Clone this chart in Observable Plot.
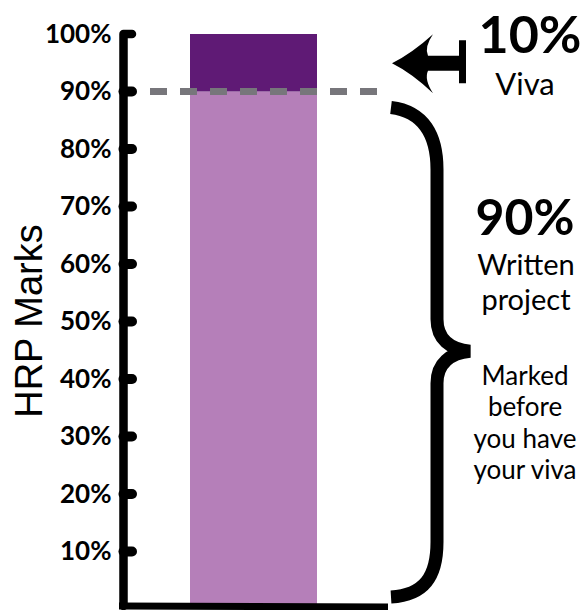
<!DOCTYPE html>
<html>
<head>
<meta charset="utf-8">
<script src="https://cdn.jsdelivr.net/npm/d3@7"></script>
<script src="https://cdn.jsdelivr.net/npm/@observablehq/plot@0.6"></script>
<style>
  html, body { margin: 0; padding: 0; background: #fff; }
  svg { display: block; }
</style>
</head>
<body>
<div id="chart"></div>
<script>
// ---- data ----
const categories = ["HRP"];
const parts = ["Written project", "Viva"];
const values = [90, 10];
const partColors = ["#b57fb9", "#5f1a75"];
const tickValues = [10, 20, 30, 40, 50, 60, 70, 80, 90, 100];
const vivaShare = "10%";
const vivaLabel = ["Viva"];
const writtenShare = "90%";
const writtenLabel = ["Written", "project"];
const writtenNote = ["Marked", "before", "you have", "your viva"];
const axisTitle = "HRP Marks";

const data = parts.map((p, i) => ({group: categories[0], part: p, value: values[i]}));

const chart = Plot.plot({
  width: 581,
  height: 610,
  marginTop: 34,
  marginBottom: 1,
  marginLeft: 125,
  marginRight: 0,
  style: {fontFamily: "Lato, sans-serif", background: "#fff", color: "#000"},
  x: {type: "band", domain: categories, range: [190, 317], padding: 0, axis: null},
  y: {domain: [0, 100], axis: null},
  color: {domain: parts, range: partColors},
  marks: [
    Plot.barY(data, {x: "group", y: "value", fill: "part"}),
    Plot.axisY({
      ticks: tickValues,
      tickFormat: d => d + "%",
      tickSize: 0,
      tickPadding: 14,
      fontSize: 26,
      fontWeight: "bold",
      fontFamily: "Lato",
      fill: "#000",
      label: null
    })
  ]
});

document.getElementById("chart").appendChild(chart);

// ---- annotations drawn with the plot's own y scale ----
const yS = chart.scale("y");
const y = v => yS.apply(v);
const svg = d3.select(chart);
const g = svg.append("g");

// dashed 90% line
const split = values[0];
g.append("line")
  .attr("x1", 150).attr("x2", 377)
  .attr("y1", y(split)).attr("y2", y(split))
  .attr("stroke", "#77767b").attr("stroke-width", 7)
  .attr("stroke-dasharray", "17 13");

// y axis line (with top bend into the 100% tick)
const yMax = d3.max(tickValues);
g.append("path")
  .attr("d", `M132,${y(yMax)} L123.5,${y(yMax)} L123.5,${y(0) - 3}`)
  .attr("fill", "none").attr("stroke", "#000").attr("stroke-width", 8.5)
  .attr("stroke-linejoin", "round").attr("stroke-linecap", "round");

// ticks
g.selectAll("line.tk").data(tickValues.filter(t => t !== yMax)).join("line")
  .attr("x1", 123.5).attr("x2", 132)
  .attr("y1", d => y(d)).attr("y2", d => y(d))
  .attr("stroke", "#000").attr("stroke-width", 10).attr("stroke-linecap", "round");

// bottom line
g.append("line")
  .attr("x1", 119).attr("x2", 388)
  .attr("y1", y(0) - 3).attr("y2", y(0) - 2)
  .attr("stroke", "#000").attr("stroke-width", 7);

// arrow for viva
const yv = y(split + values[1] / 2) + 0.5;
g.append("path")
  .attr("d", `M392,${yv} Q412,${yv - 10} 433,${yv - 29} Q424,${yv - 16} 428,${yv - 7.5} L460,${yv - 7.5} L460,${yv + 7.5} L428,${yv + 7.5} Q424,${yv + 16} 433,${yv + 30} Q412,${yv + 10} 392,${yv} Z`)
  .attr("fill", "#000");
g.append("rect")
  .attr("x", 459).attr("y", yv - 23).attr("width", 7).attr("height", 43)
  .attr("fill", "#000");

// brace for written project
const bt = y(split) + 16, bb = y(0) - 12, bm = y(split / 2) + 1;
g.append("path")
  .attr("d", `M391,${bt} C424,${bt + 4} 437,${bt + 28} 437,${bt + 62} L437,${bm - 32} C437,${bm - 12} 450,${bm - 2} 470,${bm} C450,${bm + 2} 437,${bm + 12} 437,${bm + 32} L437,${bb - 55} C437,${bb - 20} 424,${bb - 2} 391,${bb}`)
  .attr("fill", "none").attr("stroke", "#000").attr("stroke-width", 13);

// y axis title
g.append("text")
  .attr("transform", `translate(42,321) rotate(-90)`)
  .attr("text-anchor", "middle")
  .attr("font-family", "Liberation Sans, Arial, sans-serif")
  .attr("font-size", 38)
  .attr("fill", "#000")
  .text(axisTitle);

// right-hand texts
function txt(s, x, yy, size, weight) {
  g.append("text")
    .attr("x", x).attr("y", yy)
    .attr("text-anchor", "middle")
    .attr("font-family", "Lato, sans-serif")
    .attr("font-size", size)
    .attr("font-weight", weight)
    .attr("fill", "#000")
    .text(s);
}
txt(vivaShare, 530, 53, 52, "bold");
vivaLabel.forEach((s, i) => txt(s, 525, 95 + i * 34, 31, "normal"));
txt(writtenShare, 525, 235, 50, "bold");
writtenLabel.forEach((s, i) => txt(s, 526, 275 + i * 35, 29, "normal"));
writtenNote.forEach((s, i) => txt(s, 525, 385 + i * 31.3, 26, "normal"));
</script>
</body>
</html>
